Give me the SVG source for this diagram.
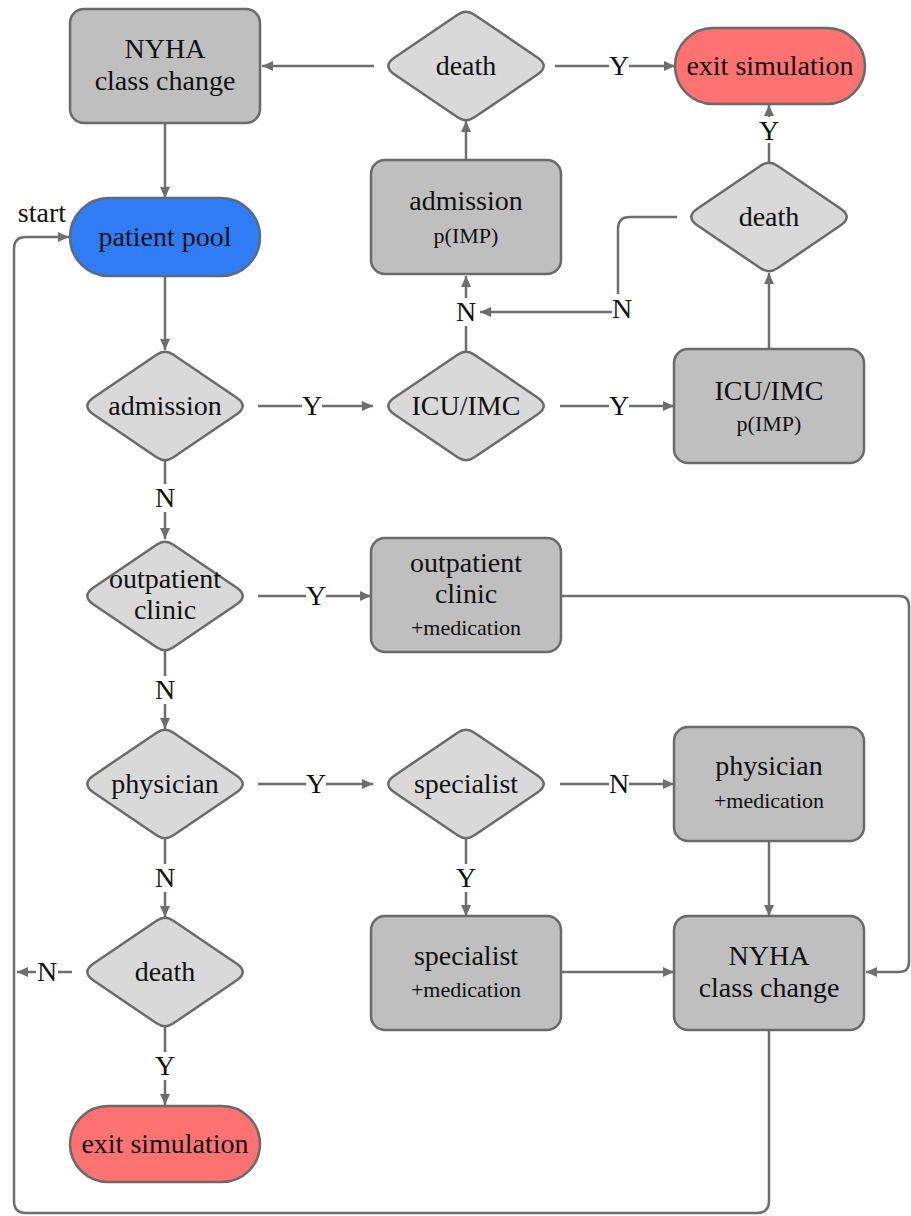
<svg xmlns="http://www.w3.org/2000/svg" xmlns:xlink="http://www.w3.org/1999/xlink" width="911" height="1216" viewBox="0 0 911 1216">
  <style>
    text { font-family: "Liberation Serif", "DejaVu Serif", serif; fill: #111; text-anchor: middle; }
    .t { font-size: 28px; }
    .s { font-size: 22px; }
    .lbl { font-size: 28px; }
    .box { fill: #bfbfbf; stroke: #6a6a6a; stroke-width: 2.5; }
    .dec { fill: #d9d9d9; stroke: #6a6a6a; stroke-width: 2.5; }
    .pool { fill: #2f7cf6; stroke: #5a6a80; stroke-width: 2.5; }
    .exit { fill: #ff7272; stroke: #6a6a6a; stroke-width: 2.5; }
    .c { fill: none; stroke: #6e6e6e; stroke-width: 2.5; }
    .a { marker-end: url(#arr); }
  </style>
  <defs>
    <marker id="arr" markerUnits="userSpaceOnUse" markerWidth="11" markerHeight="10" refX="11" refY="5" orient="auto">
      <path d="M0,0 L11,5 L0,10 Z" fill="#6e6e6e"/>
    </marker>
    <!-- rounded decision diamond, centred on the origin -->
    <path id="dia" d="M-71.4,-8.55 L-8.4,-51.3 Q0,-57 8.4,-51.3 L71.4,-8.55 Q84,0 71.4,8.55 L8.4,51.3 Q0,57 -8.4,51.3 L-71.4,8.55 Q-84,0 -71.4,-8.55 Z"/>
  </defs>

  <rect width="911" height="1216" fill="#fff"/>

  <!-- connectors; labelled ones leave a gap for their Y / N label -->
  <g id="connectors">
    <path class="c a" d="M374,66 H262"/>
    <path class="c a" d="M555,66 H609 M629,66 H675"/>
    <path class="c a" d="M165,123 V198"/>
    <path class="c a" d="M466,160 V121"/>
    <path class="c a" d="M769,163 V143 M769,117 V105"/>
    <path class="c a" d="M677,217 H630 Q618,217 618,229 V294 M612,312 H480"/>
    <path class="c a" d="M466,352 V326 M466,298 V276"/>
    <path class="c a" d="M769,349 V273"/>
    <path class="c a" d="M165,276 V350"/>
    <path class="c a" d="M258,406 H302 M322,406 H373"/>
    <path class="c a" d="M560,406 H609 M629,406 H674"/>
    <path class="c a" d="M165,460 V484 M165,512 V539"/>
    <path class="c a" d="M258,596 H306 M326,596 H371"/>
    <path class="c a" d="M561,596 H899 Q909,596 909,606 V962 Q909,972 899,972 H866"/>
    <path class="c a" d="M165,650 V676 M165,704 V729"/>
    <path class="c a" d="M258,784 H306 M326,784 H373"/>
    <path class="c a" d="M560,784 H609 M629,784 H674"/>
    <path class="c a" d="M466,838 V864 M466,892 V916"/>
    <path class="c a" d="M769,841 V916"/>
    <path class="c a" d="M561,972 H674"/>
    <path class="c a" d="M165,838 V864 M165,892 V917"/>
    <path class="c a" d="M72,972 H58 M36,972 H17"/>
    <path class="c a" d="M165,1026 V1052 M165,1080 V1105"/>
    <path class="c a" d="M769,1030 V1201 Q769,1213 757,1213 H26 Q14,1213 14,1201 V249 Q14,237 26,237 H69"/>

    <text class="lbl" x="619" y="75">Y</text>
    <text class="lbl" x="769" y="140">Y</text>
    <text class="lbl" x="622" y="318">N</text>
    <text class="lbl" x="466" y="321">N</text>
    <text class="lbl" x="312" y="415">Y</text>
    <text class="lbl" x="619" y="415">Y</text>
    <text class="lbl" x="165" y="507">N</text>
    <text class="lbl" x="316" y="605">Y</text>
    <text class="lbl" x="165" y="699">N</text>
    <text class="lbl" x="316" y="793">Y</text>
    <text class="lbl" x="619" y="793">N</text>
    <text class="lbl" x="466" y="887">Y</text>
    <text class="lbl" x="165" y="887">N</text>
    <text class="lbl" x="47" y="981">N</text>
    <text class="lbl" x="165" y="1075">Y</text>
    <text class="t" x="66" y="222" style="text-anchor:end">start</text>
  </g>

  <!-- nodes -->
  <g id="nyha-top">
    <rect class="box" x="70" y="9" width="190" height="114" rx="14"/>
    <text class="t" x="165" y="58">NYHA</text>
    <text class="t" x="165" y="90">class change</text>
  </g>
  <g id="death-top">
    <use href="#dia" xlink:href="#dia" class="dec" x="466" y="66"/>
    <text class="t" x="466" y="75">death</text>
  </g>
  <g id="exit-top">
    <rect class="exit" x="675" y="28" width="190" height="76" rx="38"/>
    <text class="t" x="770" y="75">exit simulation</text>
  </g>
  <g id="admission-stay">
    <rect class="box" x="371" y="160" width="190" height="114" rx="14"/>
    <text class="t" x="466" y="210">admission</text>
    <text class="s" x="466" y="243">p(IMP)</text>
  </g>
  <g id="death-icu">
    <use href="#dia" xlink:href="#dia" class="dec" x="769" y="217"/>
    <text class="t" x="769" y="226">death</text>
  </g>
  <g id="patient-pool">
    <rect class="pool" x="70" y="198" width="190" height="78" rx="39"/>
    <text class="t" x="165" y="246">patient pool</text>
  </g>
  <g id="admission-q">
    <use href="#dia" xlink:href="#dia" class="dec" x="165" y="406"/>
    <text class="t" x="165" y="415">admission</text>
  </g>
  <g id="icu-q">
    <use href="#dia" xlink:href="#dia" class="dec" x="466" y="406"/>
    <text class="t" x="466" y="415">ICU/IMC</text>
  </g>
  <g id="icu-stay">
    <rect class="box" x="674" y="349" width="190" height="114" rx="14"/>
    <text class="t" x="769" y="400">ICU/IMC</text>
    <text class="s" x="769" y="431">p(IMP)</text>
  </g>
  <g id="outpatient-q">
    <use href="#dia" xlink:href="#dia" class="dec" x="165" y="596"/>
    <text class="t" x="165" y="588">outpatient</text>
    <text class="t" x="165" y="619">clinic</text>
  </g>
  <g id="outpatient-visit">
    <rect class="box" x="371" y="538" width="190" height="114" rx="14"/>
    <text class="t" x="466" y="572">outpatient</text>
    <text class="t" x="466" y="603">clinic</text>
    <text class="s" x="466" y="635">+medication</text>
  </g>
  <g id="physician-q">
    <use href="#dia" xlink:href="#dia" class="dec" x="165" y="784"/>
    <text class="t" x="165" y="793">physician</text>
  </g>
  <g id="specialist-q">
    <use href="#dia" xlink:href="#dia" class="dec" x="466" y="784"/>
    <text class="t" x="466" y="793">specialist</text>
  </g>
  <g id="physician-visit">
    <rect class="box" x="674" y="727" width="190" height="114" rx="14"/>
    <text class="t" x="769" y="775">physician</text>
    <text class="s" x="769" y="808">+medication</text>
  </g>
  <g id="death-bottom">
    <use href="#dia" xlink:href="#dia" class="dec" x="165" y="972"/>
    <text class="t" x="165" y="981">death</text>
  </g>
  <g id="specialist-visit">
    <rect class="box" x="371" y="916" width="190" height="114" rx="14"/>
    <text class="t" x="466" y="965">specialist</text>
    <text class="s" x="466" y="997">+medication</text>
  </g>
  <g id="nyha-bottom">
    <rect class="box" x="674" y="916" width="190" height="114" rx="14"/>
    <text class="t" x="769" y="965">NYHA</text>
    <text class="t" x="769" y="997">class change</text>
  </g>
  <g id="exit-bottom">
    <rect class="exit" x="70" y="1106" width="190" height="76" rx="38"/>
    <text class="t" x="165" y="1153">exit simulation</text>
  </g>
</svg>
